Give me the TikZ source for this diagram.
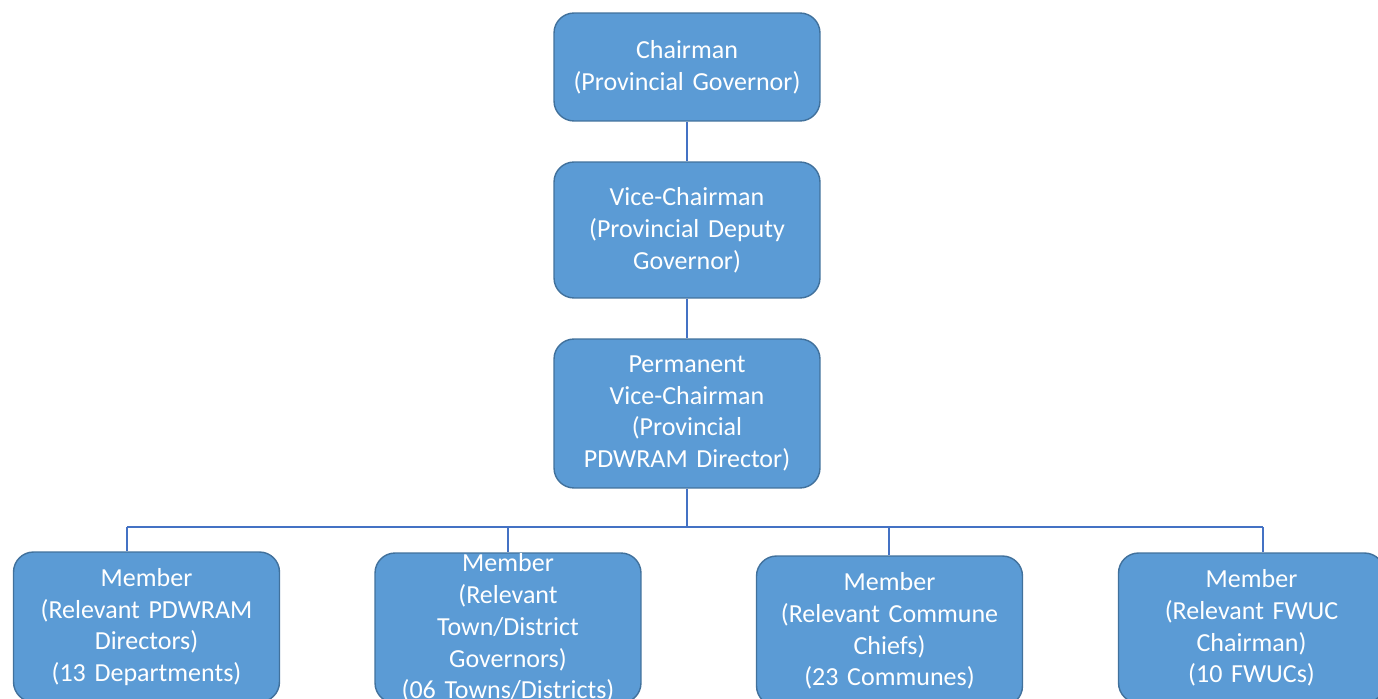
\documentclass[tikz,border=0pt]{standalone}
\usepackage{fontspec}
\setmainfont{Carlito}
\usepackage{xcolor}
\usepackage{tikz}
\usetikzlibrary{positioning,calc}
\definecolor{boxfill}{HTML}{5B9BD5}
\definecolor{boxline}{HTML}{41719C}
\definecolor{linkline}{HTML}{4472C4}
\tikzset{
  post/.style=
  {
    draw=boxline,
    fill=boxfill,
    line width=0.8pt,
    rounded corners=0.4cm,
    minimum width=5.32cm,
    inner sep=0pt,
    align=center,
    text width=5.1cm,
    text=white,
    font=\fontsize{14.8}{18.1}\selectfont
  },
  member/.style=
  {
    post,
    minimum width=5.32cm,
    minimum height=3cm
  },
  link/.style=
  {
    draw=linkline,
    line width=1pt
  }
 }

\begin{document}
\begin{tikzpicture}[x=0.02cm, y=-0.02cm]
  \useasboundingbox (0,0) rectangle (1378,699);
  \clip (0,0) rectangle (1378,699);
  % top chain
  \node[post, minimum height=2.16cm] (chair) at (687,67) {Chairman\\(Provincial Governor)};
  \node[post, minimum height=2.72cm] (vice) at (687,230) {Vice-Chairman\\(Provincial Deputy\\Governor)};
  \node[post, minimum height=2.98cm] (perm) at (687,413.5) {Permanent\\Vice-Chairman\\(Provincial\\PDWRAM Director)};
  % members
  \node[member] (m1) at (146.5,627) {Member\\(Relevant PDWRAM\\Directors)\\(13 Departments)};
  \node[member] (m2) at (508,628) {Member\\(Relevant\\Town/District\\Governors)\\(06 Towns/Districts)};
  \node[member] (m3) at (889.5,631) {Member\\(Relevant Commune\\Chiefs)\\(23 Communes)};
  \node[member] (m4) at (1251.5,628) {Member\\(Relevant FWUC\\Chairman)\\(10 FWUCs)};
  % bus
  \coordinate (b1) at (127,527);
  \coordinate (b2) at (508,527);
  \coordinate (b3) at (889,527);
  \coordinate (b4) at (1263,527);
  \draw[link] (chair.south) -- (vice.north);
  \draw[link] (vice.south) -- (perm.north);
  \draw[link] (perm.south) -- (perm.south |- b1);
  \draw[link] (b1) -- (b4);
  \foreach \i in {1,...,4}
    \draw[link] (b\i) -- (b\i |- m\i.north);
\end{tikzpicture}
\end{document}
